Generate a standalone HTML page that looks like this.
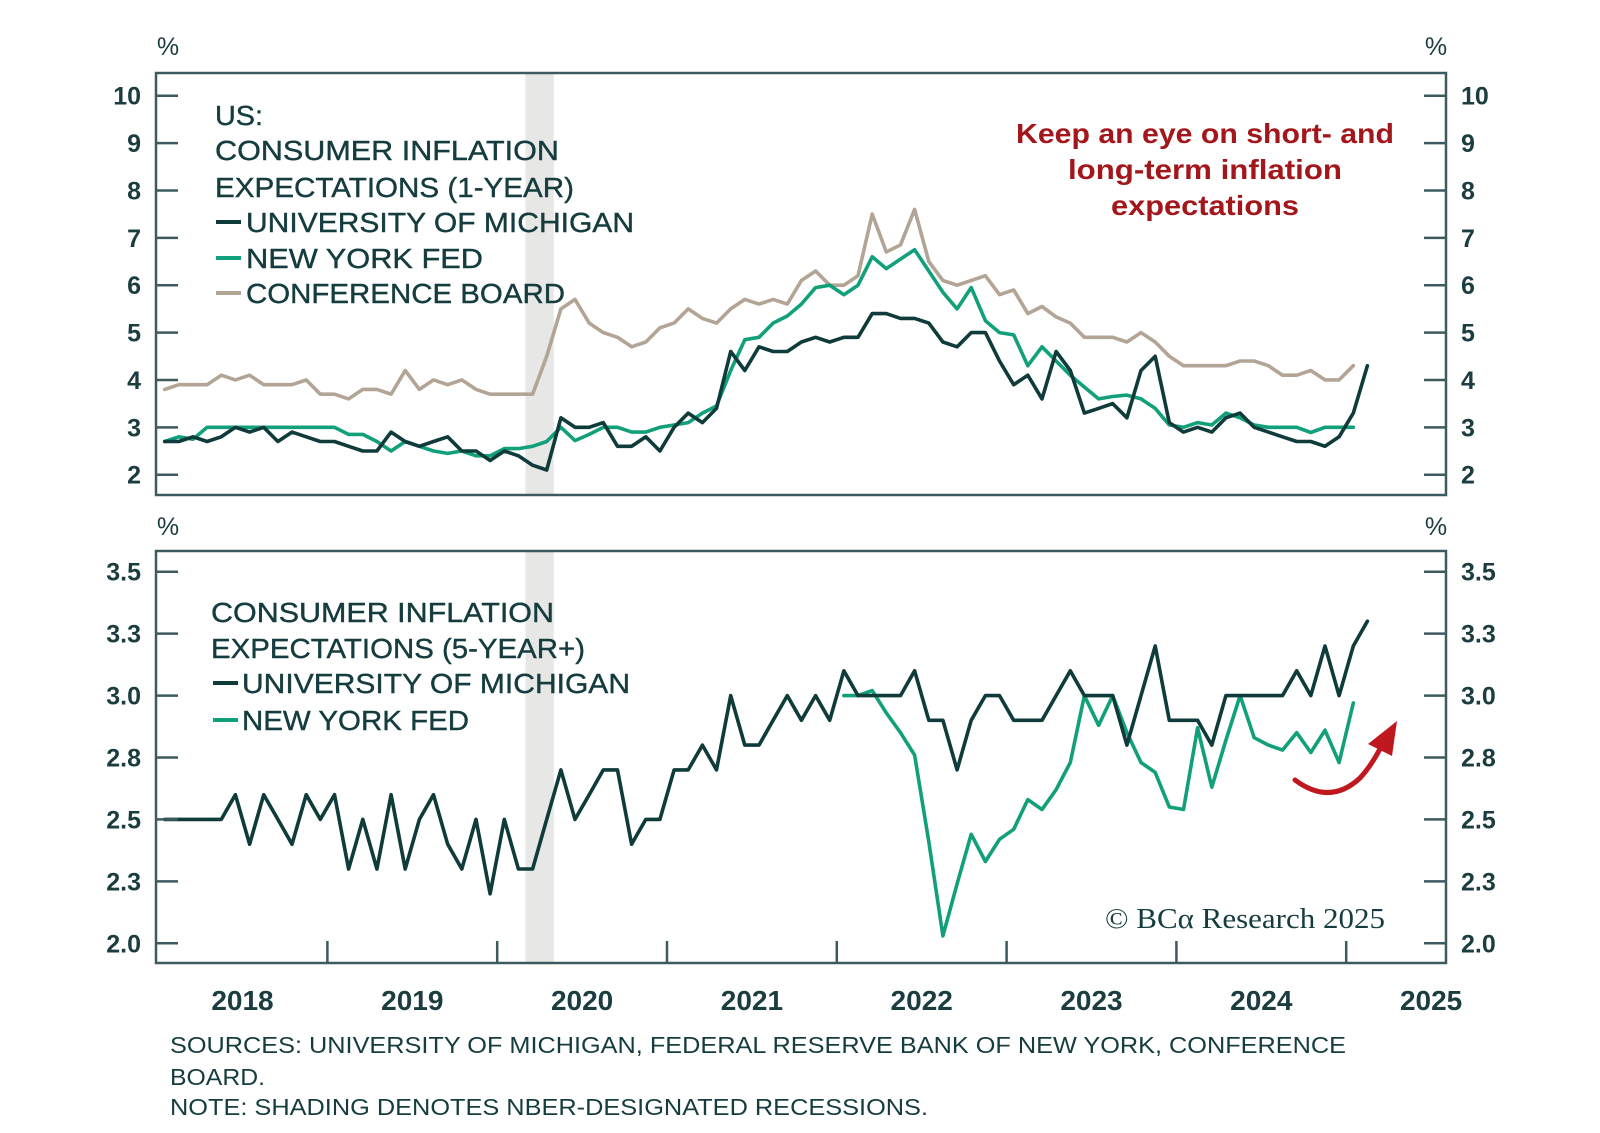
<!DOCTYPE html>
<html><head><meta charset="utf-8">
<style>
html,body{margin:0;padding:0;background:#fff;}
svg{display:block;font-family:"Liberation Sans",sans-serif;}
</style></head>
<body>
<svg id="chart" xmlns="http://www.w3.org/2000/svg" width="1600" height="1133" viewBox="0 0 1600 1133">
  <rect width="1600" height="1133" fill="#fff"/>
  <g id="shading"></g>
  <g id="top"></g>
  <g id="bot"></g>
  <g id="axes"></g>

  <text x="168" y="55" font-size="25" fill="#1c3d3f" text-anchor="middle">%</text>
  <text x="1436" y="55" font-size="25" fill="#1c3d3f" text-anchor="middle">%</text>
  <text x="168" y="535" font-size="25" fill="#1c3d3f" text-anchor="middle">%</text>
  <text x="1436" y="535" font-size="25" fill="#1c3d3f" text-anchor="middle">%</text>

  <g font-size="28" fill="#153c3e" stroke="#153c3e" stroke-width="0.4">
    <text x="215" y="125" textLength="48" lengthAdjust="spacingAndGlyphs">US:</text>
    <text x="215" y="160" textLength="344" lengthAdjust="spacingAndGlyphs">CONSUMER INFLATION</text>
    <text x="215" y="197" textLength="359" lengthAdjust="spacingAndGlyphs">EXPECTATIONS (1-YEAR)</text>
    <line x1="216" y1="222" x2="241" y2="222" stroke="#0f3b3a" stroke-width="4"/>
    <text x="246" y="232" textLength="388" lengthAdjust="spacingAndGlyphs">UNIVERSITY OF MICHIGAN</text>
    <line x1="216" y1="258" x2="241" y2="258" stroke="#12a07b" stroke-width="4"/>
    <text x="246" y="268" textLength="237" lengthAdjust="spacingAndGlyphs">NEW YORK FED</text>
    <line x1="216" y1="293" x2="241" y2="293" stroke="#b3a596" stroke-width="4"/>
    <text x="246" y="303" textLength="319" lengthAdjust="spacingAndGlyphs">CONFERENCE BOARD</text>
  </g>

  <g font-size="28" fill="#153c3e" stroke="#153c3e" stroke-width="0.4">
    <text x="211" y="622" textLength="343" lengthAdjust="spacingAndGlyphs">CONSUMER INFLATION</text>
    <text x="211" y="658" textLength="374" lengthAdjust="spacingAndGlyphs">EXPECTATIONS (5-YEAR+)</text>
    <line x1="213" y1="683" x2="238" y2="683" stroke="#0f3b3a" stroke-width="4"/>
    <text x="242" y="693" textLength="388" lengthAdjust="spacingAndGlyphs">UNIVERSITY OF MICHIGAN</text>
    <line x1="213" y1="720" x2="238" y2="720" stroke="#12a07b" stroke-width="4"/>
    <text x="242" y="730" textLength="227" lengthAdjust="spacingAndGlyphs">NEW YORK FED</text>
  </g>

  <g font-size="28" font-weight="bold" fill="#a3161b" text-anchor="middle">
    <text x="1205" y="143" textLength="378" lengthAdjust="spacingAndGlyphs">Keep an eye on short- and</text>
    <text x="1205" y="179" textLength="274" lengthAdjust="spacingAndGlyphs">long-term inflation</text>
    <text x="1205" y="215" textLength="188" lengthAdjust="spacingAndGlyphs">expectations</text>
  </g>

  <g>
    <path d="M1295,780 Q1330,806 1360,778 Q1372,765 1382,745" fill="none" stroke="#c0181f" stroke-width="5" stroke-linecap="round"/>
    <polygon points="1397,721 1368,744 1392,756" fill="#c0181f"/>
  </g>

  <text x="1105" y="928" font-family="'Liberation Serif',serif" font-size="28" fill="#153c3e" textLength="280" lengthAdjust="spacingAndGlyphs">© BCα Research 2025</text>

  <g font-size="23" fill="#153c3e">
    <text x="170" y="1053" textLength="1176" lengthAdjust="spacingAndGlyphs">SOURCES: UNIVERSITY OF MICHIGAN, FEDERAL RESERVE BANK OF NEW YORK, CONFERENCE</text>
    <text x="170" y="1085" textLength="95" lengthAdjust="spacingAndGlyphs">BOARD.</text>
    <text x="170" y="1115" textLength="758" lengthAdjust="spacingAndGlyphs">NOTE: SHADING DENOTES NBER-DESIGNATED RECESSIONS.</text>
  </g>
</svg>
<script>
// ---- data (monthly, index 0 = Jan 2018) ----
const years = [2018, 2019, 2020, 2021, 2022, 2023, 2024, 2025];
const topTicks = [2, 3, 4, 5, 6, 7, 8, 9, 10];
const topTickLabels = ["2", "3", "4", "5", "6", "7", "8", "9", "10"];
const botTicks = [2.0, 2.25, 2.5, 2.75, 3.0, 3.25, 3.5];
const botTickLabels = ["2.0", "2.3", "2.5", "2.8", "3.0", "3.3", "3.5"];
const recessionStart = 2.0;   // months after Jan 2020 (Mar 2020)
const recessionEnd = 4.0;

const michigan1y = [
  2.7,2.7,2.8,2.7,2.8,3.0,2.9,3.0,2.7,2.9,2.8,2.7,
  2.7,2.6,2.5,2.5,2.9,2.7,2.6,2.7,2.8,2.5,2.5,2.3,
  2.5,2.4,2.2,2.1,3.2,3.0,3.0,3.1,2.6,2.6,2.8,2.5,
  3.0,3.3,3.1,3.4,4.6,4.2,4.7,4.6,4.6,4.8,4.9,4.8,
  4.9,4.9,5.4,5.4,5.3,5.3,5.2,4.8,4.7,5.0,5.0,4.4,
  3.9,4.1,3.6,4.6,4.2,3.3,3.4,3.5,3.2,4.2,4.5,3.1,
  2.9,3.0,2.9,3.2,3.3,3.0,2.9,2.8,2.7,2.7,2.6,2.8,
  3.3,4.3];
const nyfed1y = [
  2.7,2.8,2.75,3.0,3.0,3.0,3.0,3.0,3.0,3.0,3.0,3.0,
  3.0,2.85,2.85,2.7,2.5,2.7,2.6,2.5,2.45,2.5,2.4,2.4,
  2.55,2.55,2.6,2.7,3.0,2.72,2.85,3.0,3.0,2.9,2.9,3.0,
  3.05,3.1,3.3,3.45,4.2,4.85,4.9,5.2,5.35,5.6,5.95,6.0,
  5.8,6.0,6.6,6.35,6.55,6.75,6.3,5.85,5.5,5.95,5.25,5.0,
  4.95,4.3,4.7,4.4,4.1,3.85,3.6,3.65,3.68,3.6,3.4,3.05,
  3.0,3.1,3.05,3.3,3.2,3.05,3.0,3.0,3.0,2.89,3.0,3.0,
  3.0];
const confBoard = [
  3.8,3.9,3.9,3.9,4.1,4.0,4.1,3.9,3.9,3.9,4.0,3.7,
  3.7,3.6,3.8,3.8,3.7,4.2,3.8,4.0,3.9,4.0,3.8,3.7,
  3.7,3.7,3.7,4.5,5.5,5.7,5.2,5.0,4.9,4.7,4.8,5.1,
  5.2,5.5,5.3,5.2,5.5,5.7,5.6,5.7,5.6,6.1,6.3,6.0,
  6.0,6.2,7.5,6.7,6.85,7.6,6.5,6.1,6.0,6.1,6.2,5.8,
  5.9,5.4,5.55,5.33,5.2,4.9,4.9,4.9,4.8,5.0,4.8,4.5,
  4.3,4.3,4.3,4.3,4.4,4.4,4.3,4.1,4.1,4.2,4.0,4.0,
  4.3];
const michigan5y = [
  2.5,2.5,2.5,2.5,2.5,2.6,2.4,2.6,2.5,2.4,2.6,2.5,
  2.6,2.3,2.5,2.3,2.6,2.3,2.5,2.6,2.4,2.3,2.5,2.2,
  2.5,2.3,2.3,2.5,2.7,2.5,2.6,2.7,2.7,2.4,2.5,2.5,
  2.7,2.7,2.8,2.7,3.0,2.8,2.8,2.9,3.0,2.9,3.0,2.9,
  3.1,3.0,3.0,3.0,3.0,3.1,2.9,2.9,2.7,2.9,3.0,3.0,
  2.9,2.9,2.9,3.0,3.1,3.0,3.0,3.0,2.8,3.0,3.2,2.9,
  2.9,2.9,2.8,3.0,3.0,3.0,3.0,3.0,3.1,3.0,3.2,3.0,
  3.2,3.3];
const nyfed5yStart = 48; // Jan 2022
const nyfed5y = [
  3.0,3.0,3.02,2.93,2.85,2.76,2.41,2.03,2.24,2.44,2.33,2.42,
  2.46,2.58,2.54,2.62,2.73,3.0,2.88,3.0,2.85,2.73,2.69,2.55,
  2.54,2.87,2.63,2.82,3.0,2.83,2.8,2.78,2.85,2.77,2.86,2.73,
  2.97];

// ---- scales ----
const X0 = 156, X1 = 1446;          // box edges
const JAN2018 = 157.6, YEARW = 169.8;
const MONTHW = YEARW / 12;
const xMonth = i => JAN2018 + (i + 0.5) * MONTHW;
const xDate = m => JAN2018 + m * MONTHW; // m = months since Jan 2018
const TOP = {y0: 73, y1: 495, vLo: 2, pLo: 474.7, vHi: 10, pHi: 95.7};
const BOT = {y0: 551, y1: 963, vLo: 2.0, pLo: 943.3, vHi: 3.5, pHi: 571.7};
const yScale = (p, v) => p.pLo + (v - p.vLo) * (p.pHi - p.pLo) / (p.vHi - p.vLo);

const NS = "http://www.w3.org/2000/svg";
function mk(tag, parent, attrs) {
  const el = document.createElementNS(NS, tag);
  for (const k in attrs) el.setAttribute(k, attrs[k]);
  parent.appendChild(el);
  return el;
}
const shading = document.getElementById('shading');
const topG = document.getElementById('top');
const botG = document.getElementById('bot');
const axes = document.getElementById('axes');

[TOP, BOT].forEach((p, k) => {
  const r = mk('rect', shading, {x: xDate(24 + recessionStart), y: p.y0, width: xDate(24 + recessionEnd) - xDate(24 + recessionStart), height: p.y1 - p.y0, fill: '#e7e7e5'});
  
  
});

function drawLine(g, panel, arr, start, color, name) {
  const pts = arr.map((v, i) => xMonth(i + start).toFixed(1) + ',' + yScale(panel, v).toFixed(1)).join(' ');
  const pl = mk('polyline', g, {points: pts, fill: 'none', stroke: color, 'stroke-width': 3.6, 'stroke-linejoin': 'round', 'stroke-linecap': 'round'});
  
  
}
const DARK = '#0f3b3a', GREEN = '#12a07b', BEIGE = '#b3a596';
drawLine(topG, TOP, confBoard, 0, BEIGE, 'line-conference-board');
drawLine(topG, TOP, nyfed1y, 0, GREEN, 'line-nyfed-1y');
drawLine(topG, TOP, michigan1y, 0, DARK, 'line-michigan-1y');
drawLine(botG, BOT, nyfed5y, nyfed5yStart, GREEN, 'line-nyfed-5y');
drawLine(botG, BOT, michigan5y, 0, DARK, 'line-michigan-5y');

const AX = '#3d5b5e';
[TOP, BOT].forEach((p, k) => {
  const r = mk('rect', axes, {x: X0, y: p.y0, width: X1 - X0, height: p.y1 - p.y0, fill: 'none', stroke: AX, 'stroke-width': 2.5});
  
  
});

function yAxis(p, ticks, labels, prefix) {
  ticks.forEach((v, i) => {
    const y = yScale(p, v);
    const t1 = mk('line', axes, {x1: X0, y1: y, x2: X0 + 22, y2: y, stroke: AX, 'stroke-width': 2.5});
    
    
    const t2 = mk('line', axes, {x1: X1 - 22, y1: y, x2: X1, y2: y, stroke: AX, 'stroke-width': 2.5});
    
    
    const l = mk('text', axes, {x: 141, y: y + 9, 'text-anchor': 'end', 'font-size': 25, 'font-weight': 'bold', fill: '#1c3d3f'});
    l.textContent = labels[i];
    
    
    const r = mk('text', axes, {x: 1461, y: y + 9, 'text-anchor': 'start', 'font-size': 25, 'font-weight': 'bold', fill: '#1c3d3f'});
    r.textContent = labels[i];
    
    
  });
}
yAxis(TOP, topTicks, topTickLabels, 'top-y');
yAxis(BOT, botTicks, botTickLabels, 'bottom-y');

years.forEach((yr, i) => {
  const xs = xDate(i * 12);
  if (i > 0) {
    const t = mk('line', axes, {x1: xs, y1: BOT.y1, x2: xs, y2: BOT.y1 - 22, stroke: AX, 'stroke-width': 2.5});
    
    
  }
  const l = mk('text', axes, {x: xs + YEARW / 2, y: 1010, 'text-anchor': 'middle', 'font-size': 28, 'font-weight': 'bold', fill: '#1c3d3f'});
  l.textContent = yr;
  
  
});
</script>
</body></html>
